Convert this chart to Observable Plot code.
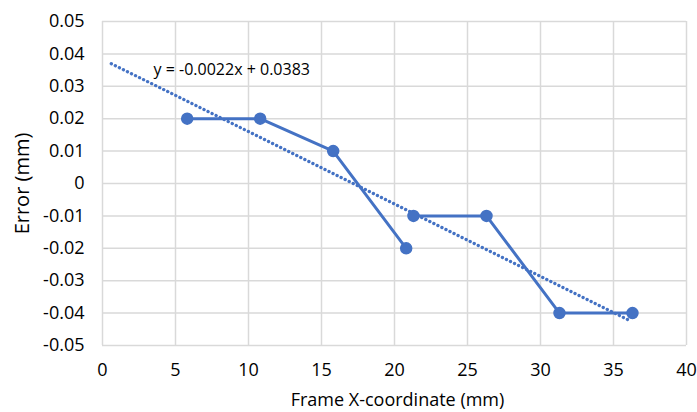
<!DOCTYPE html>
<html>
<head>
<meta charset="utf-8">
<script src="https://cdn.jsdelivr.net/npm/d3@7"></script>
<script src="https://cdn.jsdelivr.net/npm/@observablehq/plot@0.6"></script>
<style>
  html, body { margin: 0; padding: 0; background: #fff; }
  #chart svg { display: block; }
</style>
</head>
<body>
<div id="chart"></div>
<script>
const xValues = [5.8, 10.8, 15.8, 20.8, 21.3, 26.3, 31.3, 36.3];
const yValues = [0.02, 0.02, 0.01, -0.02, -0.01, -0.01, -0.04, -0.04];
const segmentIds = [0, 0, 0, 0, 1, 1, 1, 1];
const trendX = [0.6, 36.2];
const trendY = [0.0370, -0.0425];
const xTicks = [0, 5, 10, 15, 20, 25, 30, 35, 40];
const yTicks = [0.05, 0.04, 0.03, 0.02, 0.01, 0, -0.01, -0.02, -0.03, -0.04, -0.05];
const yTickLabels = ["0.05", "0.04", "0.03", "0.02", "0.01", "0", "-0.01", "-0.02", "-0.03", "-0.04", "-0.05"];
const equationText = "y = -0.0022x + 0.0383";
const xTitle = "Frame X-coordinate (mm)";
const yTitle = "Error (mm)";

const points = xValues.map((x, i) => ({x, y: yValues[i], seg: segmentIds[i]}));
const trend = trendX.map((x, i) => ({x, y: trendY[i]}));
const blue = "#4472c4";
const grid = "#d9d9d9";

const chart = Plot.plot({
  width: 697,
  height: 412,
  marginLeft: 102,
  marginRight: 11,
  marginTop: 21,
  marginBottom: 67,
  style: {fontFamily: "'Open Sans', sans-serif", fontSize: "18px", color: "#000", background: "#fff"},
  x: {domain: [0, 40], axis: null},
  y: {domain: [-0.05, 0.05], axis: null},
  marks: [
    Plot.ruleX(xTicks, {stroke: grid, strokeWidth: 1.5}),
    Plot.ruleY(yTicks, {stroke: grid, strokeWidth: 1.5}),
    Plot.axisX({ticks: xTicks, tickSize: 0, tickPadding: 18, fontSize: 18, fill: "#000", tickFormat: d => String(d), label: null}),
    Plot.axisY({ticks: yTicks, tickSize: 0, tickPadding: 18, fontSize: 18, fill: "#000", tickFormat: d => yTickLabels[yTicks.indexOf(d)], label: null}),
    Plot.text([xTitle], {frameAnchor: "bottom", dy: 55, dx: 3, fontSize: 18, fill: "#000", textAnchor: "middle", lineAnchor: "middle"}),
    Plot.text([yTitle], {frameAnchor: "left", dx: -80, rotate: -90, fontSize: 20, fill: "#000", textAnchor: "middle"}),
    Plot.line(trend, {x: "x", y: "y", stroke: blue, strokeWidth: 3.3, strokeDasharray: "0.1 4.4", strokeLinecap: "round"}),
    Plot.line(points, {x: "x", y: "y", z: "seg", stroke: blue, strokeWidth: 3, strokeLinejoin: "round"}),
    Plot.dot(points, {x: "x", y: "y", r: 5.5, fill: blue, stroke: blue}),
    Plot.text([equationText], {x: [3.5], y: [0.035], textAnchor: "start", fontSize: 16, fill: "#000"})
  ]
});
document.getElementById("chart").appendChild(chart);
</script>
</body>
</html>
